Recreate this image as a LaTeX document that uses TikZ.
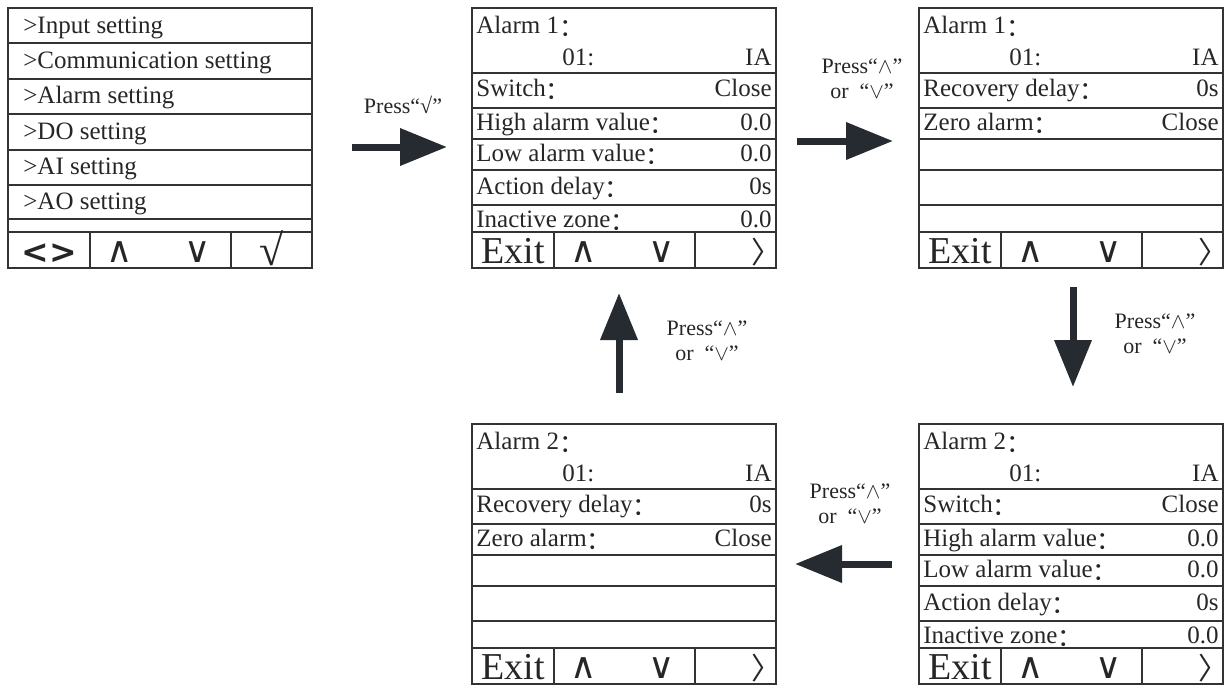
\documentclass[tikz,border=0pt]{standalone}
\usepackage{fontspec}
\setmainfont{Liberation Serif}
\newfontfamily\cjk{Noto Sans CJK SC}
\newfontfamily\keysans{DejaVu Sans}
\usetikzlibrary{arrows.meta,calc}
\definecolor{inkgray}{HTML}{262B31}
\definecolor{framegray}{HTML}{333333}
\newcommand{\fc}{{\cjk\raisebox{-0.12em}{：}}}
% frame of one display: name, left, top, row lines
\newcommand{\lcdframe}[4]{
  \coordinate (#1) at (#2,#3);
  \draw[panel] (#1) rectangle ++(304,260);
  \foreach \ry in {#4} \draw[rowline] ($(#1)+(0,\ry)$) -- ++(304,0);
  \draw[panel] ($(#1)+(0,224)$) -- ++(304,0);
  \draw[rowline] ($(#1)+(82,224)$) -- ++(0,36);
  \draw[rowline] ($(#1)+(223,224)$) -- ++(0,36);
}
% key bar: name, first key style, first key, last key style, last key
\newcommand{\lcdkeys}[5]{
  \node[#2] (#1k1) at ($(#1)+(41,255)$) {#3};
  \node[arrowkey] (#1k2) at ($(#1)+(112,254)$) {∧};
  \node[arrowkey] (#1k3) at ($(#1)+(190,254)$) {∨};
  \node[#4] (#1k4) at ($(#1)+(278,255)$) {#5};
}
% two line head of an alarm display
\newcommand{\lcdhead}[2]{
  \node[lefttext] (#1h1) at ($(#1)+(4,19)$) {#2\fc};
  \node[lefttext] (#1h2) at ($(#1)+(90,51)$) {01:};
  \node[righttext] (#1h3) at ($(#1)+(300,51)$) {IA};
}
\newcommand{\lcdrows}[2]{
  \foreach \ry/\lab/\val [count=\i] in {#2} {
    \node[lefttext] (#1l\i) at ($(#1)+(4,\ry)$) {\lab\fc};
    \node[righttext] (#1v\i) at ($(#1)+(300,\ry)$) {\val};
  }
}
\tikzset{
  panel/.style={draw=framegray,line width=0.8pt},
  rowline/.style={draw=framegray,line width=0.55pt},
  lcdtext/.style={inner sep=0pt,text height=9pt,text depth=3pt,text=black!85,
    font=\fontsize{12.5}{14}\selectfont},
  lefttext/.style={lcdtext,anchor=west},
  righttext/.style={lcdtext,anchor=east},
  exitkey/.style={anchor=base,inner sep=0pt,text=black!85,font=\fontsize{19}{20}\selectfont},
  movekey/.style={anchor=base,inner sep=0pt,text=black!85,font=\keysans\bfseries\fontsize{16.5}{18}\selectfont},
  okkey/.style={anchor=base,inner sep=0pt,xshift=-7pt,yshift=-1pt,text=black!85,font=\fontsize{22}{24}\selectfont},
  nextkey/.style={anchor=base,inner sep=0pt,xshift=8pt,text=black!85,font=\cjk\fontsize{15}{16}\selectfont},
  arrowkey/.style={anchor=base,inner sep=0pt,text=black!85,font=\keysans\fontsize{18}{20}\selectfont},
  presslabel/.style={align=center,inner sep=0pt,text=black!85,font=\fontsize{11}{12.5}\selectfont},
  bigarrow/.style={draw=inkgray,line width=3.5pt,-{Triangle[length=23.5pt,width=18pt]}},
}

\begin{document}
\begin{tikzpicture}[x=0.5pt,y=-0.5pt]
\useasboundingbox (0,0) rectangle (1225,686);

% main menu
\lcdframe{menu}{8}{8}{35,71,106,142,177,211}
\foreach \ry/\lab [count=\i] in {19/Input setting,54/Communication setting,
    89/Alarm setting,125/DO setting,160/AI setting,195/AO setting}
  \node[lefttext] (menu\i) at ($(menu)+(15,\ry)$) {>\lab};
\lcdkeys{menu}{movekey}{<>}{okkey}{√}

% alarm 1, first page
\lcdframe{alarmA}{472}{8}{65,100,131,162,197}
\lcdhead{alarmA}{Alarm 1}
\lcdrows{alarmA}{82/Switch/Close,116/High alarm value/0.0,147/Low alarm value/0.0,
  180/Action delay/0s,213/Inactive zone/0.0}
\lcdkeys{alarmA}{exitkey}{Exit}{nextkey}{〉}

% alarm 1, second page
\lcdframe{alarmB}{919}{8}{65,100,131,162,197}
\lcdhead{alarmB}{Alarm 1}
\lcdrows{alarmB}{82/Recovery delay/0s,116/Zero alarm/Close}
\lcdkeys{alarmB}{exitkey}{Exit}{nextkey}{〉}

% alarm 2, first page
\lcdframe{alarmC}{919}{424}{65,100,131,162,197}
\lcdhead{alarmC}{Alarm 2}
\lcdrows{alarmC}{82/Switch/Close,116/High alarm value/0.0,147/Low alarm value/0.0,
  180/Action delay/0s,213/Inactive zone/0.0}
\lcdkeys{alarmC}{exitkey}{Exit}{nextkey}{〉}

% alarm 2, second page
\lcdframe{alarmD}{472}{424}{65,100,131,162,197}
\lcdhead{alarmD}{Alarm 2}
\lcdrows{alarmD}{82/Recovery delay/0s,116/Zero alarm/Close}
\lcdkeys{alarmD}{exitkey}{Exit}{nextkey}{〉}

% key presses between the displays
\coordinate (goA1) at (352,147); \coordinate (goA2) at (447,147);
\coordinate (goB1) at (797,141); \coordinate (goB2) at (893,141);
\coordinate (goC1) at (1073,287); \coordinate (goC2) at (1073,387);
\coordinate (goD1) at (892,564); \coordinate (goD2) at (795,564);
\coordinate (goE1) at (619,393); \coordinate (goE2) at (619,293);
\foreach \g in {A,B,C,D,E} \draw[bigarrow] (go\g1) -- (go\g2);
\node[presslabel] (pressA) at (403,105) {Press“√”};
\node[presslabel] (pressB) at (862,79) {Press“$\wedge$”\\or\ \ “$\vee$”};
\node[presslabel] (pressC) at (1155,334) {Press“$\wedge$”\\or\ \ “$\vee$”};
\node[presslabel] (pressD) at (850,504) {Press“$\wedge$”\\or\ \ “$\vee$”};
\node[presslabel] (pressE) at (707,341) {Press“$\wedge$”\\or\ \ “$\vee$”};
\end{tikzpicture}
\end{document}
